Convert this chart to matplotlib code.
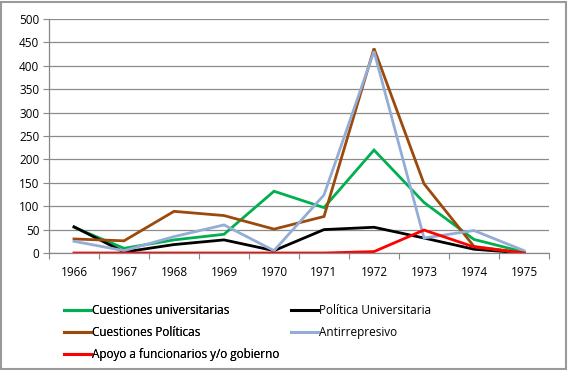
import matplotlib
matplotlib.use("Agg")
import matplotlib.pyplot as plt
from matplotlib.lines import Line2D
from matplotlib.patches import Rectangle

years = ["1966", "1967", "1968", "1969", "1970", "1971", "1972", "1973", "1974", "1975"]
cuestiones_univ = [55, 10, 28, 40, 132, 97, 220, 108, 29, 2]
politica_univ = [56, 2, 18, 28, 5, 50, 55, 32, 8, 0]
cuestiones_pol = [30, 26, 89, 80, 51, 78, 437, 148, 14, 0]
antirrepresivo = [25, 5, 35, 60, 5, 124, 431, 32, 48, 5]
apoyo_gob = [0, 0, 0, 0, 0, 0, 3, 49, 13, 0]

series = [
    ("Cuestiones universitarias", cuestiones_univ, "#00B050"),
    ("Cuestiones Políticas", cuestiones_pol, "#9C4A0C"),
    ("Apoyo a funcionarios y/o gobierno", apoyo_gob, "#FF0000"),
    ("Política Universitaria", politica_univ, "#000000"),
    ("Antirrepresivo", antirrepresivo, "#94ADD6"),
]
draw_order = [0, 3, 1, 4, 2]

plt.rcParams["font.family"] = ["Open Sans", "DejaVu Sans"]

fig = plt.figure(figsize=(5.68, 3.70), dpi=100)
W, H = 568, 370
ax = fig.add_axes([49 / W, (H - 253) / H, 500 / W, 234 / H])

x = list(range(len(years)))
for i in draw_order:
    name, vals, col = series[i]
    ax.plot(x, vals, color=col, lw=2.0, solid_joinstyle="miter")

ax.set_xlim(-0.5, len(years) - 0.5)
ax.set_ylim(0, 500)
ax.set_yticks(range(0, 501, 50))
ax.set_xticks(x)
ax.set_xticklabels(years)
ax.set_xticks([v - 0.5 for v in range(len(years) + 1)], minor=True)
ax.tick_params(axis="x", which="major", length=0, pad=9, labelsize=8.5)
ax.tick_params(axis="x", which="minor", length=4, color="#888888", width=0.8)
ax.tick_params(axis="y", length=4, color="#888888", width=0.8, labelsize=8.5, pad=3)
ax.grid(axis="y", color="#8c8c8c", lw=0.9)
ax.set_axisbelow(True)
for s in ["top", "right"]:
    ax.spines[s].set_visible(False)
for s in ["left", "bottom"]:
    ax.spines[s].set_color("#888888")
    ax.spines[s].set_linewidth(0.9)

def make_legend(idx, xpos):
    handles = [Line2D([0], [0], color=series[i][2], lw=2.2) for i in idx]
    labels = [series[i][0] for i in idx]
    leg = fig.legend(handles, labels, loc="upper left", bbox_to_anchor=(xpos / W, 1 - 304 / H),
                     frameon=False, fontsize=8.5, handlelength=2.3, handletextpad=0.1,
                     labelspacing=0.75, borderpad=0, borderaxespad=0)
    return leg

leg1 = make_legend([0, 1, 2], 64)
fig.add_artist(leg1)
make_legend([3, 4], 291)

fig.add_artist(Rectangle((1 / W, 1 / H), 1 - 3 / W, 1 - 3 / H, transform=fig.transFigure,
                         fill=False, edgecolor="#9a9a9a", lw=1.5))

fig.savefig("out.png", dpi=100)
